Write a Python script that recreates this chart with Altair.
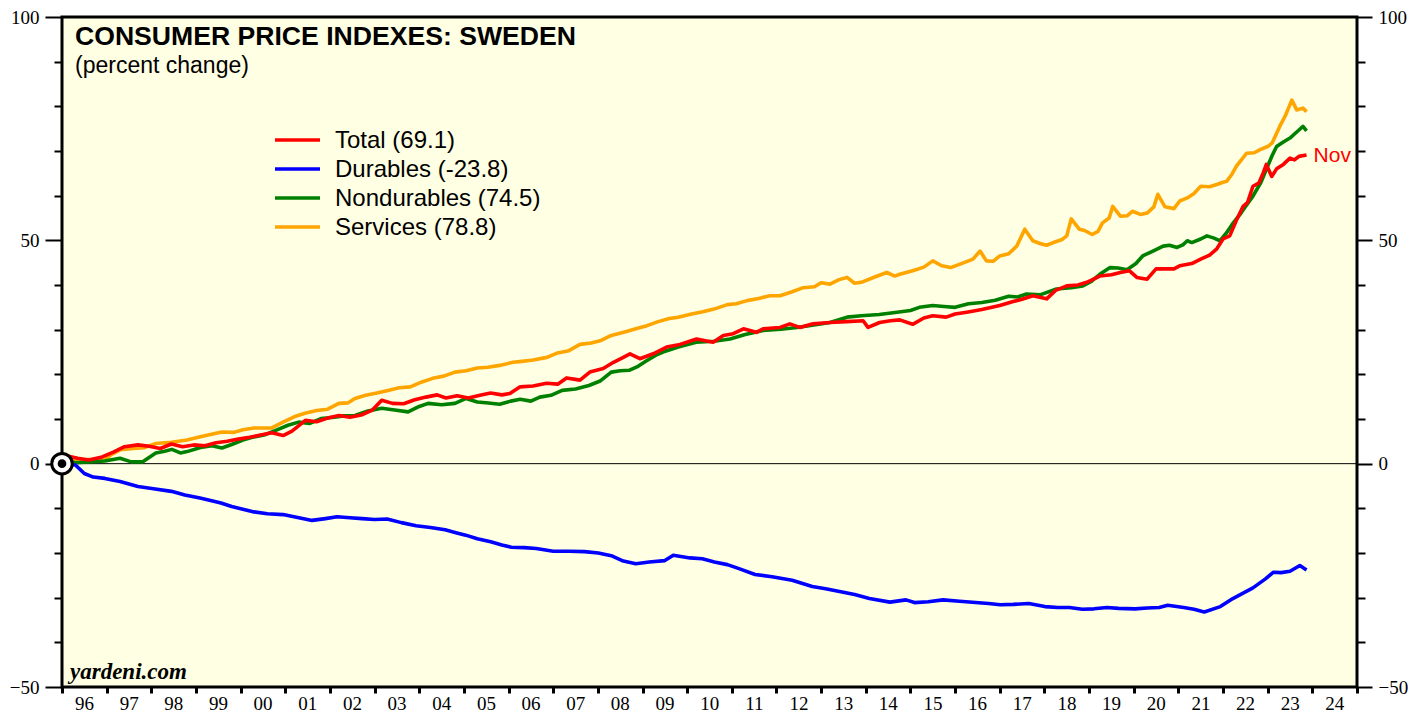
import altair as alt
import pandas as pd

SERIES = ["Services", "Nondurables", "Durables", "Total"]
LEGEND_NAMES = ["Total", "Durables", "Nondurables", "Services"]
LEGEND_LABELS = ["Total (69.1)", "Durables (-23.8)", "Nondurables (74.5)", "Services (78.8)"]
COLOR_MAP = {"Total": "#ff0000", "Durables": "#0000ff", "Nondurables": "#008000", "Services": "#ffa500"}
YEAR_TICKS = list(range(1996, 2026))
Y_TICKS = list(range(-50, 101, 10))
TITLE = "CONSUMER PRICE INDEXES: SWEDEN"
SUBTITLE = "(percent change)"
SOURCE = "yardeni.com"
LAST_MONTH = "Nov"

total_t = [1996.0, 1996.1, 1996.35, 1996.6, 1996.9, 1997.15, 1997.4, 1997.7, 1997.95, 1998.2, 1998.45,
           1998.7, 1998.95, 1999.2, 1999.45, 1999.7, 1999.95, 2000.2, 2000.45, 2000.7, 2000.95, 2001.15,
           2001.45, 2001.7, 2001.95, 2002.2, 2002.45, 2002.7, 2002.95, 2003.16, 2003.4, 2003.65, 2003.9,
           2004.15, 2004.4, 2004.6, 2004.85, 2005.1, 2005.36, 2005.6, 2005.85, 2006.03, 2006.26, 2006.55,
           2006.85, 2007.1, 2007.3, 2007.6, 2007.82, 2008.12, 2008.35, 2008.57, 2008.72, 2008.94, 2009.24,
           2009.54, 2009.84, 2010.21, 2010.58, 2010.81, 2011.03, 2011.26, 2011.55, 2011.7, 2012.08, 2012.3,
           2012.52, 2012.82, 2013.19, 2013.57, 2013.94, 2014.05, 2014.31, 2014.55, 2014.76, 2015.05, 2015.3,
           2015.5, 2015.8, 2016.0, 2016.26, 2016.6, 2017.0, 2017.3, 2017.5, 2017.74, 2018.05, 2018.25,
           2018.5, 2018.75, 2018.95, 2019.24, 2019.5, 2019.7, 2019.9, 2020.07, 2020.3, 2020.5, 2020.9,
           2021.03, 2021.3, 2021.5, 2021.7, 2021.86, 2022.0, 2022.15, 2022.3, 2022.45, 2022.55, 2022.67,
           2022.8, 2022.9, 2022.97, 2023.09, 2023.2, 2023.35, 2023.5, 2023.6, 2023.7, 2023.87]
total_v = [0.0, 1.8, 1.2, 0.8, 1.5, 2.6, 3.8, 4.2, 3.9, 3.4, 4.4,
           3.8, 4.2, 4.0, 4.7, 5.0, 5.5, 5.9, 6.4, 6.9, 6.3, 7.3,
           9.7, 9.4, 10.2, 10.8, 10.4, 10.9, 12.0, 14.2, 13.5, 13.4, 14.3,
           14.9, 15.4, 14.7, 15.2, 14.7, 15.3, 15.8, 15.4, 15.7, 17.2, 17.4,
           18.0, 17.8, 19.2, 18.7, 20.5, 21.3, 22.7, 23.8, 24.6, 23.5, 24.6,
           26.1, 26.7, 27.9, 27.2, 28.7, 29.1, 30.2, 29.4, 30.2, 30.5, 31.3,
           30.5, 31.3, 31.6, 31.8, 32.0, 30.5, 31.6, 32.0, 32.2, 31.2, 32.6,
           33.1, 32.8, 33.5, 33.9, 34.5, 35.4, 36.3, 36.8, 37.6, 36.9, 38.8,
           39.8, 40.0, 40.6, 42.0, 42.3, 42.8, 43.2, 41.7, 41.3, 43.6, 43.6,
           44.3, 44.8, 45.8, 46.7, 48.1, 50.3, 51.0, 54.5, 57.6, 58.5, 62.1,
           62.8, 65.1, 67.0, 64.3, 66.0, 67.0, 68.4, 68.0, 68.8, 69.1]

dur_t = [1996.0, 1996.3, 1996.5, 1996.7, 1996.96, 1997.3, 1997.7, 1998.05, 1998.45, 1998.75, 1999.09,
         1999.35, 1999.56, 1999.8, 2000.05, 2000.3, 2000.6, 2000.95, 2001.25, 2001.6, 2001.9, 2002.16,
         2002.45, 2002.72, 2003.0, 2003.28, 2003.6, 2003.93, 2004.25, 2004.58, 2004.8, 2005.04, 2005.3,
         2005.6, 2005.85, 2006.06, 2006.35, 2006.62, 2007.0, 2007.36, 2007.7, 2008.01, 2008.3, 2008.57,
         2008.85, 2009.15, 2009.5, 2009.69, 2010.06, 2010.34, 2010.61, 2010.9, 2011.16, 2011.52, 2011.9,
         2012.35, 2012.8, 2013.1, 2013.44, 2013.75, 2014.08, 2014.54, 2014.9, 2015.09, 2015.4, 2015.73,
         2016.1, 2016.46, 2016.75, 2017.01, 2017.3, 2017.65, 2018.01, 2018.3, 2018.56, 2018.85, 2019.11,
         2019.4, 2019.66, 2020.03, 2020.3, 2020.57, 2020.76, 2021.12, 2021.35, 2021.58, 2021.94, 2022.22,
         2022.45, 2022.67, 2022.95, 2023.13, 2023.3, 2023.5, 2023.72, 2023.87]
dur_v = [0.0, -0.3, -2.2, -3.0, -3.3, -4.0, -5.1, -5.6, -6.2, -7.0, -7.7,
         -8.3, -8.8, -9.6, -10.2, -10.8, -11.2, -11.4, -12.0, -12.7, -12.3, -11.9,
         -12.1, -12.3, -12.5, -12.4, -13.2, -13.9, -14.3, -14.8, -15.4, -16.0, -16.8,
         -17.5, -18.2, -18.7, -18.8, -19.0, -19.6, -19.6, -19.7, -20.0, -20.6, -21.8,
         -22.4, -22.0, -21.7, -20.5, -21.1, -21.3, -22.0, -22.6, -23.5, -24.8, -25.3,
         -26.1, -27.5, -28.0, -28.7, -29.3, -30.2, -31.0, -30.5, -31.1, -30.9, -30.5,
         -30.8, -31.1, -31.3, -31.6, -31.5, -31.3, -32.0, -32.2, -32.2, -32.6, -32.5,
         -32.2, -32.4, -32.5, -32.3, -32.2, -31.7, -32.2, -32.6, -33.2, -32.0, -30.2,
         -29.0, -27.8, -25.8, -24.3, -24.4, -24.1, -22.8, -23.8]

nondur_t = [1996.0, 1996.15, 1996.3, 1996.6, 1996.96, 1997.3, 1997.55, 1997.8, 1998.1, 1998.3, 1998.46,
            1998.65, 1998.8, 1999.1, 1999.36, 1999.58, 1999.8, 2000.05, 2000.3, 2000.55, 2000.8, 2001.06,
            2001.3, 2001.55, 2001.8, 2002.1, 2002.3, 2002.56, 2002.85, 2003.16, 2003.45, 2003.75, 2004.0,
            2004.2, 2004.5, 2004.8, 2005.05, 2005.3, 2005.55, 2005.8, 2006.05, 2006.26, 2006.5, 2006.7,
            2006.95, 2007.2, 2007.5, 2007.8, 2008.05, 2008.3, 2008.5, 2008.7, 2008.9, 2009.1, 2009.3,
            2009.46, 2009.8, 2010.2, 2010.6, 2010.96, 2011.3, 2011.7, 2012.1, 2012.46, 2012.8, 2013.2,
            2013.58, 2013.9, 2014.3, 2014.7, 2015.0, 2015.2, 2015.5, 2015.75, 2016.0, 2016.3, 2016.6,
            2016.9, 2017.2, 2017.4, 2017.6, 2017.9, 2018.27, 2018.6, 2018.86, 2019.05, 2019.24, 2019.47,
            2019.65, 2019.85, 2020.05, 2020.2, 2020.43, 2020.66, 2020.8, 2020.97, 2021.1, 2021.2, 2021.3,
            2021.5, 2021.64, 2021.8, 2021.93, 2022.08, 2022.2, 2022.38, 2022.5, 2022.67, 2022.85, 2022.97,
            2023.1, 2023.2, 2023.35, 2023.5, 2023.6, 2023.7, 2023.79, 2023.87]
nondur_v = [0.0, 0.5, 0.2, 0.4, 0.6, 1.2, 0.4, 0.4, 2.4, 2.8, 3.2,
            2.4, 2.7, 3.6, 4.0, 3.5, 4.3, 5.3, 6.0, 6.5, 7.5, 8.6,
            9.3, 9.0, 10.1, 10.4, 10.7, 10.8, 11.8, 12.4, 12.0, 11.6, 12.8,
            13.5, 13.2, 13.5, 14.6, 13.8, 13.6, 13.3, 14.0, 14.4, 14.0, 14.9,
            15.3, 16.4, 16.7, 17.5, 18.5, 20.5, 20.8, 20.9, 21.8, 23.1, 24.3,
            25.0, 26.1, 27.2, 27.4, 27.9, 28.9, 29.8, 30.1, 30.5, 31.0, 31.6,
            32.8, 33.1, 33.4, 33.9, 34.3, 35.0, 35.4, 35.2, 35.0, 35.8, 36.1,
            36.6, 37.5, 37.3, 38.0, 37.8, 39.1, 39.4, 39.8, 40.8, 42.4, 43.9,
            43.8, 43.4, 44.8, 46.5, 47.6, 48.7, 48.9, 48.4, 49.0, 49.9, 49.5,
            50.3, 51.0, 50.5, 49.9, 51.7, 53.5, 55.8, 57.5, 59.9, 63.0, 65.9,
            69.0, 71.0, 72.0, 72.9, 73.8, 74.7, 75.5, 74.5]

serv_t = [1996.0, 1996.15, 1996.3, 1996.6, 1996.96, 1997.1, 1997.3, 1997.6, 1997.85, 1998.1, 1998.45,
          1998.8, 1999.1, 1999.35, 1999.58, 1999.85, 2000.05, 2000.3, 2000.7, 2000.95, 2001.2, 2001.44,
          2001.7, 2001.95, 2002.2, 2002.4, 2002.56, 2002.8, 2003.05, 2003.3, 2003.55, 2003.8, 2004.06,
          2004.3, 2004.55, 2004.8, 2005.05, 2005.3, 2005.54, 2005.8, 2006.1, 2006.3, 2006.55, 2006.86,
          2007.1, 2007.35, 2007.6, 2007.85, 2008.05, 2008.3, 2008.6, 2008.85, 2009.1, 2009.35, 2009.6,
          2009.8, 2010.1, 2010.35, 2010.6, 2010.9, 2011.1, 2011.34, 2011.6, 2011.85, 2012.08, 2012.35,
          2012.6, 2012.85, 2013.0, 2013.2, 2013.4, 2013.58, 2013.75, 2013.9, 2014.2, 2014.47, 2014.65,
          2014.76, 2015.05, 2015.3, 2015.5, 2015.7, 2015.9, 2016.2, 2016.4, 2016.56, 2016.7, 2016.85,
          2017.0, 2017.2, 2017.38, 2017.56, 2017.74, 2017.9, 2018.05, 2018.2, 2018.4, 2018.5, 2018.6,
          2018.78, 2018.9, 2019.07, 2019.2, 2019.3, 2019.45, 2019.53, 2019.7, 2019.85, 2019.97, 2020.15,
          2020.3, 2020.45, 2020.54, 2020.7, 2020.9, 2021.03, 2021.2, 2021.35, 2021.5, 2021.7, 2021.86,
          2022.0, 2022.08, 2022.2, 2022.3, 2022.45, 2022.53, 2022.7, 2022.83, 2023.0, 2023.1, 2023.27,
          2023.4, 2023.54, 2023.65, 2023.79, 2023.87]
serv_v = [0.0, 0.8, 0.8, 0.9, 0.8, 2.0, 3.1, 3.4, 3.6, 4.5, 4.8,
          5.3, 6.0, 6.6, 7.1, 7.0, 7.6, 8.0, 8.0, 9.3, 10.5, 11.3,
          11.9, 12.2, 13.5, 13.6, 14.6, 15.3, 15.8, 16.4, 17.0, 17.2, 18.3,
          19.1, 19.6, 20.5, 20.8, 21.4, 21.6, 22.0, 22.7, 22.9, 23.2, 23.8,
          24.8, 25.3, 26.7, 27.0, 27.5, 28.7, 29.5, 30.2, 30.9, 31.8, 32.5,
          32.8, 33.5, 34.0, 34.6, 35.6, 35.8, 36.5, 37.0, 37.6, 37.6, 38.5,
          39.4, 39.6, 40.5, 40.2, 41.2, 41.7, 40.4, 40.6, 41.8, 42.8, 42.0,
          42.4, 43.2, 44.0, 45.4, 44.3, 43.9, 45.0, 45.8, 47.6, 45.4, 45.3,
          46.5, 47.0, 48.7, 52.5, 49.9, 49.3, 48.9, 49.5, 50.2, 51.0, 54.8,
          52.5, 52.2, 51.3, 52.0, 53.9, 55.0, 57.6, 55.4, 55.5, 56.5, 55.8,
          56.1, 57.5, 60.3, 57.5, 57.1, 58.8, 59.5, 60.5, 62.1, 62.0, 62.5,
          63.0, 63.2, 64.8, 66.6, 68.5, 69.5, 69.6, 70.3, 71.0, 71.8, 75.5,
          78.0, 81.4, 79.2, 79.6, 78.8]

DATA = {
    "Total": (total_t, total_v),
    "Durables": (dur_t, dur_v),
    "Nondurables": (nondur_t, nondur_v),
    "Services": (serv_t, serv_v),
}

BG = "#ffffe3"
SERIF = "Liberation Serif"
SANS = "Liberation Sans"

xscale = alt.Scale(domain=[1996, 2025], nice=False, zero=False)
yscale = alt.Scale(domain=[-50, 100], nice=False, zero=False)

x_axis = alt.Axis(
    orient="bottom", values=YEAR_TICKS, format="d",
    labelExpr="datum.value == 2025 ? '' : substring(datum.label, 2, 4)",
    labelOffset=22, labelFlush=False, labelOverlap=False, labelBound=False,
    labelFont=SERIF, labelFontSize=19, labelColor="black", labelPadding=1,
    tickSize=6, tickWidth=3, tickColor="black", domain=False, grid=False, title=None,
)
left_axis = alt.Axis(
    orient="left", values=Y_TICKS,
    labelExpr="datum.value % 50 == 0 ? datum.label : ''",
    labelFont=SERIF, labelFontSize=19, labelColor="black", labelPadding=6,
    labelOverlap=False, labelFlush=False,
    tickSize={"condition": {"test": "datum.value % 50 == 0", "value": 17}, "value": 8},
    tickWidth=2, tickColor="black", domain=False, grid=False, title=None,
)
right_axis = alt.Axis(
    orient="right", values=Y_TICKS,
    labelExpr="datum.value % 50 == 0 ? datum.label : ''",
    labelFont=SERIF, labelFontSize=19, labelColor="black", labelPadding=6,
    labelOverlap=False, labelFlush=False,
    tickSize={"condition": {"test": "datum.value % 50 == 0", "value": 15}, "value": 8},
    tickWidth=2, tickColor="black", domain=False, grid=False, title=None,
)

layers = []

# zero line with right axis
zero_df = pd.DataFrame({"v": [0]})
layers.append(
    alt.Chart(zero_df).mark_rule(color="black", strokeWidth=1).encode(
        y=alt.Y("v:Q", scale=yscale, axis=right_axis)
    )
)

first = True
for name in SERIES:
    t, v = DATA[name]
    df = pd.DataFrame({"t": t, "v": v})
    layers.append(
        alt.Chart(df).mark_line(color=COLOR_MAP[name], strokeWidth=3.6, strokeJoin="round").encode(
            x=alt.X("t:Q", scale=xscale, axis=x_axis if first else None),
            y=alt.Y("v:Q", scale=yscale, axis=left_axis if first else None),
        )
    )
    first = False

# origin marker
origin_df = pd.DataFrame({"t": [total_t[0]], "v": [total_v[0]]})
layers.append(
    alt.Chart(origin_df).mark_point(shape="circle", filled=True, fill="white", stroke="black",
                                    strokeWidth=3, size=420, opacity=1).encode(
        x=alt.X("t:Q", scale=xscale, axis=None), y=alt.Y("v:Q", scale=yscale, axis=None)
    )
)
layers.append(
    alt.Chart(origin_df).mark_point(shape="circle", filled=True, color="black", size=75, opacity=1).encode(
        x=alt.X("t:Q", scale=xscale, axis=None), y=alt.Y("v:Q", scale=yscale, axis=None)
    )
)

# Nov label at last Total point
last_df = pd.DataFrame({"t": [total_t[-1]], "v": [total_v[-1]], "lab": [LAST_MONTH]})
layers.append(
    alt.Chart(last_df).mark_text(align="left", baseline="middle", dx=7, dy=1, color="#ff0000",
                                 font=SANS, fontSize=21).encode(
        x=alt.X("t:Q", scale=xscale, axis=None), y=alt.Y("v:Q", scale=yscale, axis=None), text="lab:N"
    )
)

# legend
leg_df = pd.DataFrame({"name": LEGEND_NAMES, "label": LEGEND_LABELS, "idx": list(range(len(LEGEND_NAMES)))})
leg_color = alt.Color("name:N", scale=alt.Scale(domain=LEGEND_NAMES, range=[COLOR_MAP[n] for n in LEGEND_NAMES]),
                      legend=None)
leg_base = alt.Chart(leg_df).transform_calculate(py="123 + 29 * datum.idx")
layers.append(
    leg_base.mark_rule(strokeWidth=3.5).encode(
        x=alt.value(213), x2=alt.value(258), y=alt.Y("py:Q", scale=None, axis=None), color=leg_color
    )
)
layers.append(
    leg_base.mark_text(align="left", baseline="middle", font=SANS, fontSize=24, color="black", dy=1).encode(
        x=alt.value(273), y=alt.Y("py:Q", scale=None, axis=None), text="label:N"
    )
)

# titles
def label(text, x, y, **kw):
    return alt.Chart(pd.DataFrame({"s": [text]})).mark_text(align="left", baseline="alphabetic", **kw).encode(
        x=alt.value(x), y=alt.value(y), text="s:N"
    )

layers.append(label(TITLE, 13, 28, font=SANS, fontSize=26.6, fontWeight="bold", color="black"))
layers.append(label(SUBTITLE, 13, 56, font=SANS, fontSize=23, color="black"))
layers.append(label(SOURCE, 8, 662, font=SERIF, fontSize=23, fontWeight="bold", fontStyle="italic", color="black"))

chart = alt.layer(*layers).resolve_axis(x="independent", y="independent").properties(
    width=1295, height=670,
    autosize=alt.AutoSizeParams(type="none"),
    padding={"left": 54, "top": 9, "right": 60, "bottom": 26},
    background="white",
).configure_view(
    fill=BG, stroke="black", strokeWidth=3,
)

chart.save("out.html", embed_options={"renderer": "svg", "actions": False})
